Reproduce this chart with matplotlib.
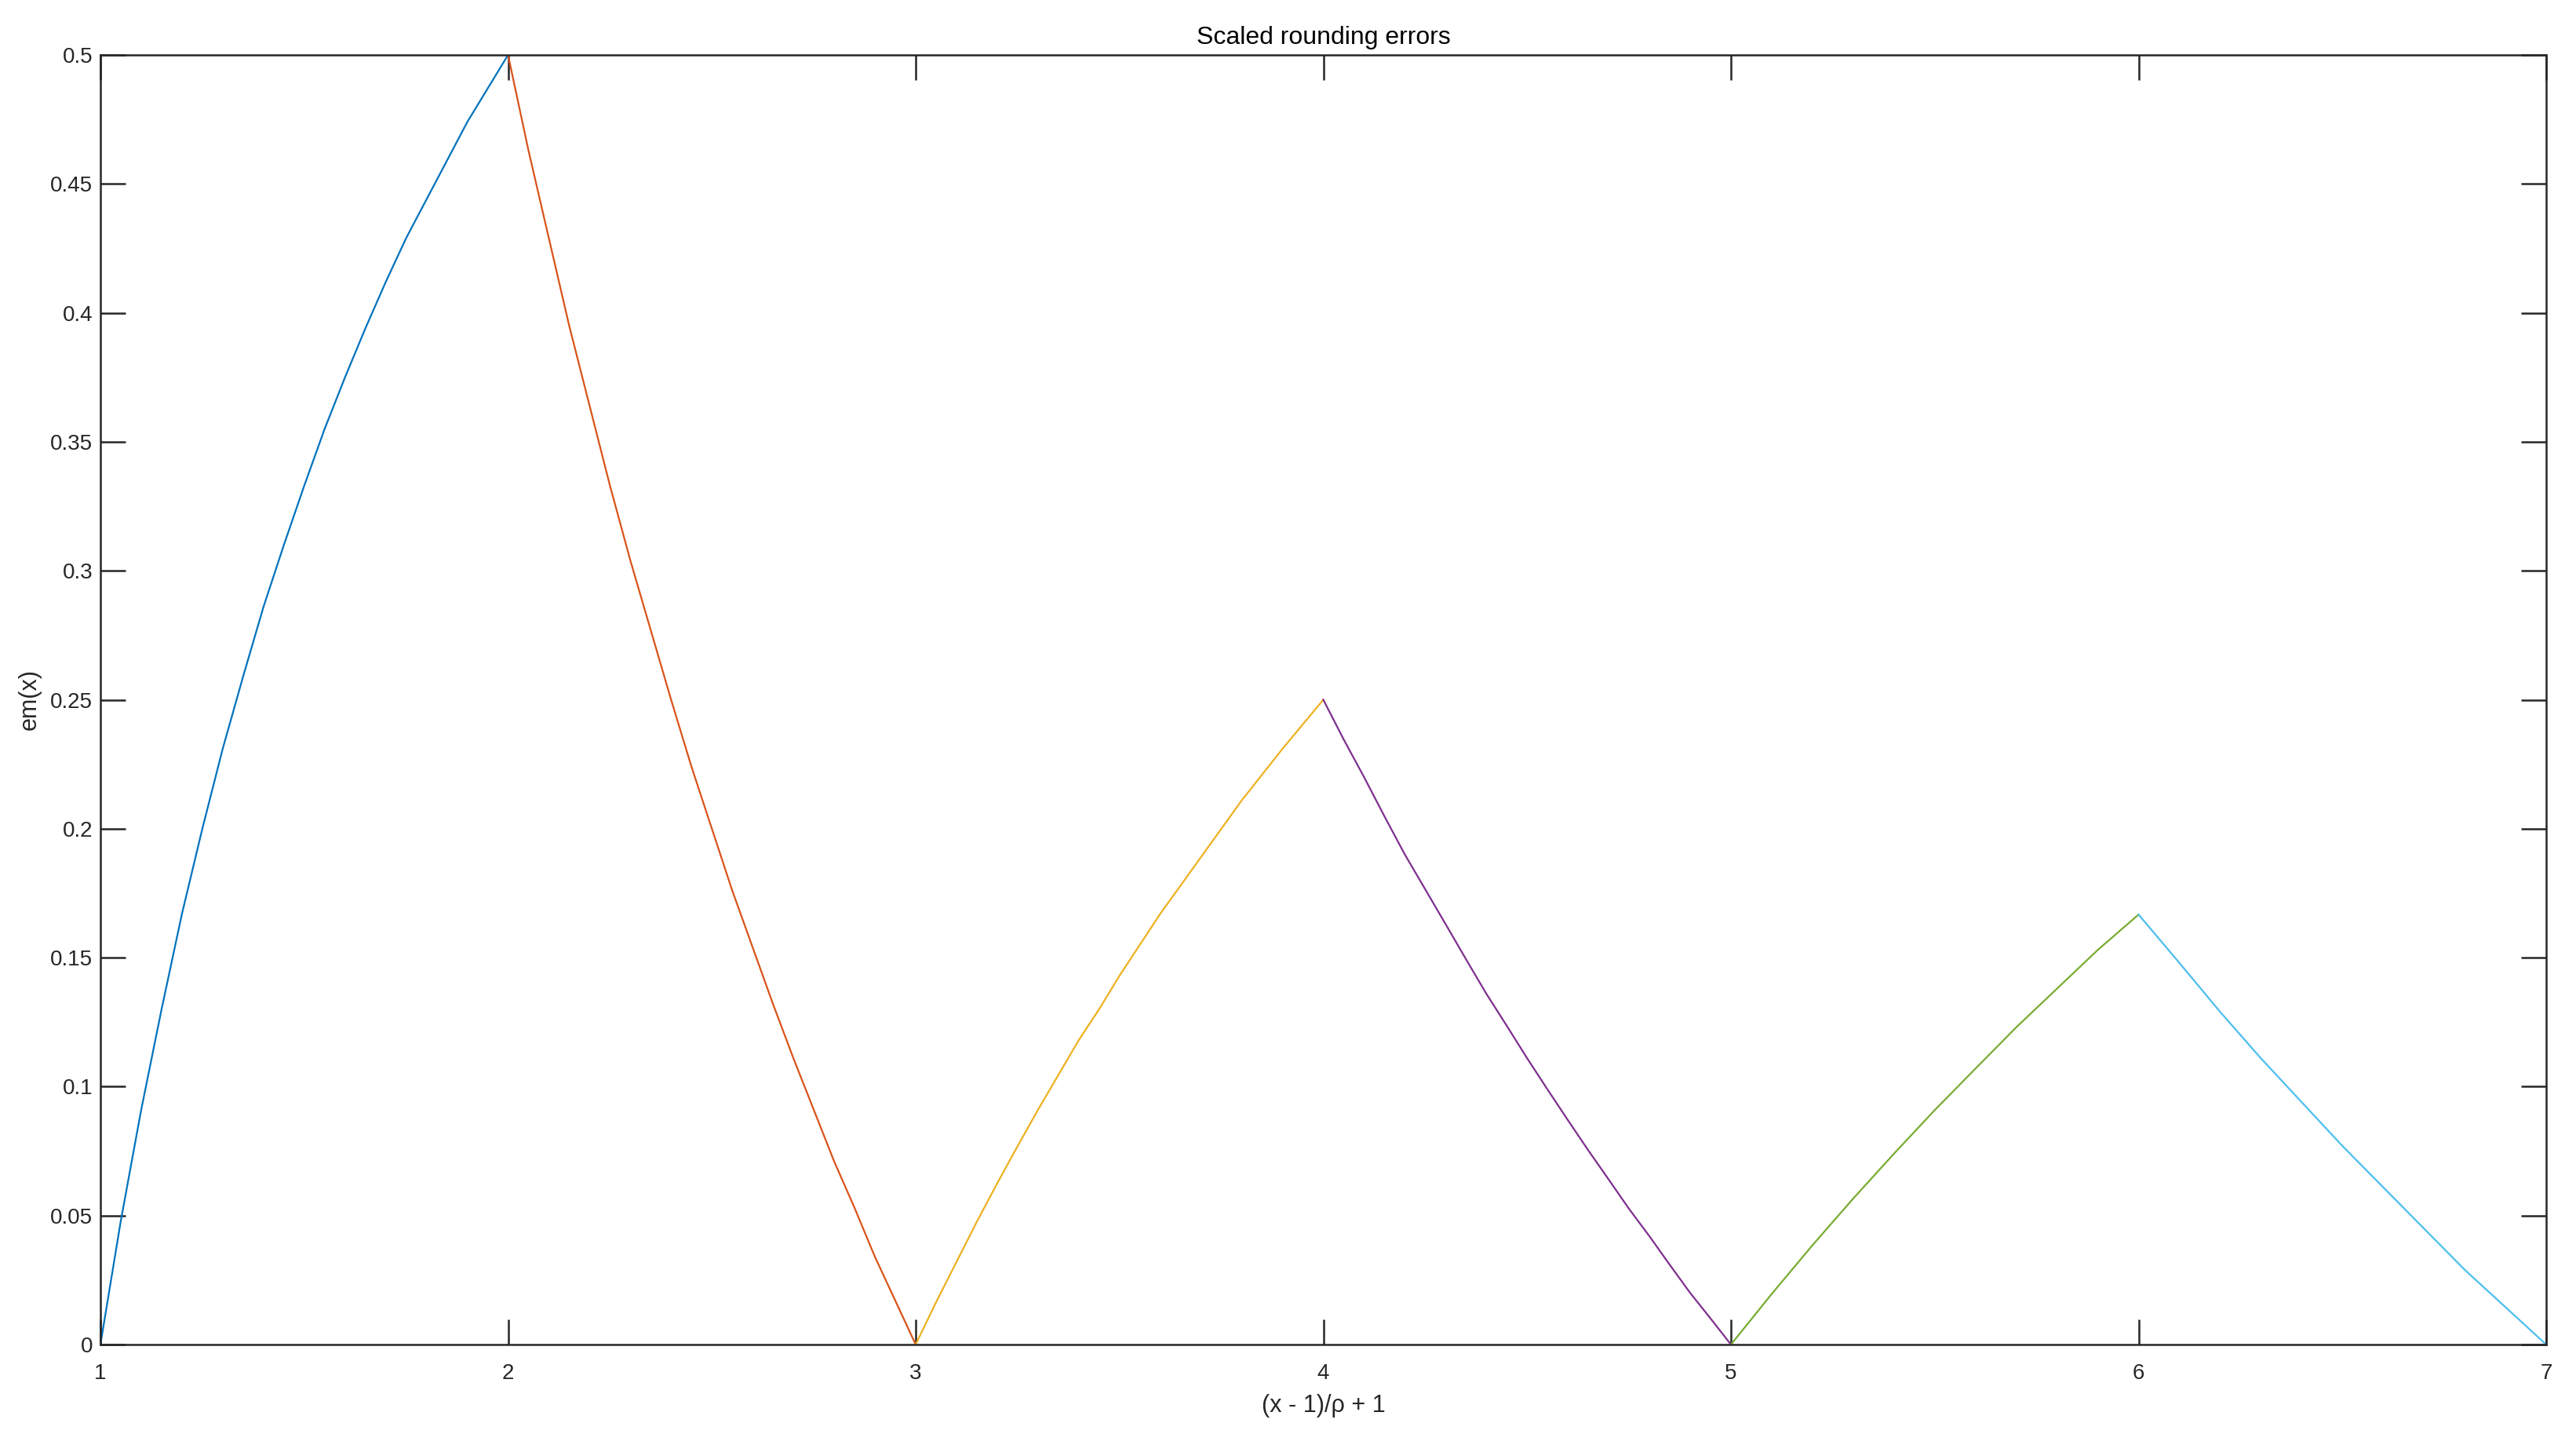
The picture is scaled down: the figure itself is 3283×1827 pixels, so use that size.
import matplotlib
matplotlib.use("Agg")
import matplotlib.pyplot as plt

x_seg1 = [1.0, 1.05, 1.1, 1.15, 1.2, 1.25, 1.3, 1.35, 1.4, 1.45, 1.5,
          1.55, 1.6, 1.65, 1.7, 1.75, 1.8, 1.85, 1.9, 1.95, 2.0]
y_seg1 = [0.0, 0.048, 0.091, 0.130, 0.167, 0.2, 0.231, 0.259, 0.286, 0.310, 0.333,
          0.355, 0.375, 0.394, 0.412, 0.429, 0.444, 0.459, 0.474, 0.487, 0.5]
x_seg2 = [2.0, 2.05, 2.1, 2.15, 2.2, 2.25, 2.3, 2.35, 2.4, 2.45, 2.5,
          2.55, 2.6, 2.65, 2.7, 2.75, 2.8, 2.85, 2.9, 2.95, 3.0]
y_seg2 = [0.5, 0.463, 0.429, 0.395, 0.364, 0.333, 0.304, 0.277, 0.25, 0.224, 0.2,
          0.176, 0.154, 0.132, 0.111, 0.091, 0.071, 0.053, 0.034, 0.017, 0.0]
x_seg3 = [3.0, 3.05, 3.1, 3.15, 3.2, 3.25, 3.3, 3.35, 3.4, 3.45, 3.5,
          3.55, 3.6, 3.65, 3.7, 3.75, 3.8, 3.85, 3.9, 3.95, 4.0]
y_seg3 = [0.0, 0.0164, 0.032, 0.0476, 0.0625, 0.0769, 0.091, 0.1045, 0.118, 0.130, 0.143,
          0.155, 0.167, 0.178, 0.189, 0.2, 0.211, 0.221, 0.231, 0.2405, 0.25]
x_seg4 = [4.0, 4.05, 4.1, 4.15, 4.2, 4.25, 4.3, 4.35, 4.4, 4.45, 4.5,
          4.55, 4.6, 4.65, 4.7, 4.75, 4.8, 4.85, 4.9, 4.95, 5.0]
y_seg4 = [0.25, 0.2346, 0.220, 0.2048, 0.190, 0.1765, 0.163, 0.1494, 0.136, 0.1236, 0.111,
          0.0989, 0.087, 0.0753, 0.064, 0.0526, 0.042, 0.0309, 0.020, 0.0101, 0.0]
x_seg5 = [5.0, 5.1, 5.2, 5.3, 5.4, 5.5, 5.6, 5.7, 5.8, 5.9, 6.0]
y_seg5 = [0.0, 0.0196, 0.0385, 0.0566, 0.074, 0.0909, 0.107, 0.123, 0.138, 0.153, 0.1667]
x_seg6 = [6.0, 6.1, 6.2, 6.3, 6.4, 6.5, 6.6, 6.7, 6.8, 6.9, 7.0]
y_seg6 = [0.1667, 0.148, 0.129, 0.111, 0.094, 0.077, 0.061, 0.045, 0.029, 0.0145, 0.0]

x_ticks = [1, 2, 3, 4, 5, 6, 7]
y_ticks = [0, 0.05, 0.1, 0.15, 0.2, 0.25, 0.3, 0.35, 0.4, 0.45, 0.5]
y_tick_labels = ["0", "0.05", "0.1", "0.15", "0.2", "0.25", "0.3", "0.35", "0.4", "0.45", "0.5"]

segments = [(x_seg1, y_seg1), (x_seg2, y_seg2), (x_seg3, y_seg3),
            (x_seg4, y_seg4), (x_seg5, y_seg5), (x_seg6, y_seg6)]
colors = ["#0072BD", "#D95319", "#EDB120", "#7E2F8E", "#77AC30", "#4DBEEE"]

plt.rcParams["font.family"] = ["Liberation Sans", "DejaVu Sans"]

fig = plt.figure(figsize=(32.83, 18.27), dpi=100)
ax = fig.add_axes([128 / 3283, 1 - 1713 / 1827, (3245 - 128) / 3283, (1713 - 70) / 1827])

for (xs, ys), c in zip(segments, colors):
    ax.plot(xs, ys, color=c, linewidth=1.6)

ax.set_xlim(1, 7)
ax.set_ylim(0, 0.5)
ax.set_xticks(x_ticks)
ax.set_xticklabels([str(v) for v in x_ticks])
ax.set_yticks(y_ticks)
ax.set_yticklabels(y_tick_labels)

ax.tick_params(axis="both", direction="in", length=23, width=1.8, color="#262626",
               labelsize=20, labelcolor="#262626", top=True, right=True)
ax.tick_params(axis="x", pad=17)
ax.tick_params(axis="y", pad=7)
for sp in ax.spines.values():
    sp.set_linewidth(1.8)
    sp.set_color("#262626")

ax.set_title("Scaled rounding errors", fontsize=23, pad=10, color="#000000")
ax.set_xlabel("(x - 1)/ρ + 1", fontsize=22, labelpad=10, color="#262626")
ax.set_ylabel("em(x)", fontsize=22, labelpad=8, color="#262626")

fig.savefig("out.png", dpi=100, facecolor="white")
